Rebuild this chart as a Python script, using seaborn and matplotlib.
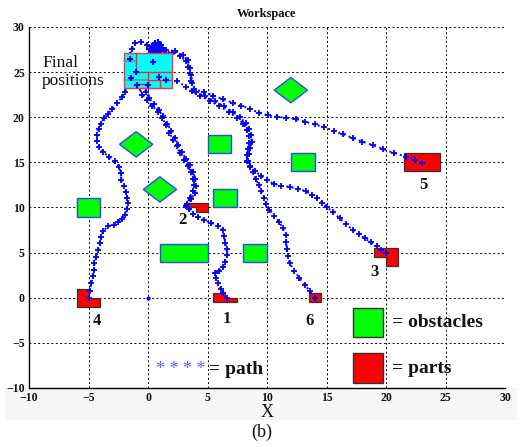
import matplotlib
matplotlib.use("Agg")
import matplotlib.pyplot as plt
from matplotlib.patches import Rectangle, Polygon
import seaborn as sns
import pandas as pd

# ---- data ----
# obstacles: squares/rects (x, y, w, h) and diamonds (cx, cy)
obst_rects = [(-6, 9, 2, 2), (5, 16, 2, 2), (5.5, 10, 2, 2), (12, 14, 2, 2), (8, 4, 2, 2), (1, 4, 4, 2)]
obst_diamonds = [(-1, 17), (1, 12), (12, 23)]
diamond_half = 1.4

# parts (red), polygons in workspace units
parts = {
    "1": [(5.5, -0.5), (7.5, -0.5), (7.5, 0), (6.5, 0), (6.5, 0.5), (5.5, 0.5)],
    "2": [(3, 10), (4, 10), (4, 9.5), (5, 9.5), (5, 10.5), (3, 10.5)],
    "3": [(19, 5.5), (21, 5.5), (21, 3.5), (20, 3.5), (20, 4.5), (19, 4.5)],
    "4": [(-6, -1), (-4, -1), (-4, 0), (-5, 0), (-5, 1), (-6, 1)],
    "5": [(21.5, 14), (24.5, 14), (24.5, 16), (21.5, 16)],
    "6": [(13.5, -0.5), (14.5, -0.5), (14.5, 0.5), (13.5, 0.5)],
}
part_labels = {"1": (6.6, -2.3), "2": (2.85, 8.6), "3": (19.0, 2.8),
               "4": (-4.3, -2.6), "5": (23.1, 12.5), "6": (13.6, -2.6)}

# final positions block and its inner edges
final_box = (-2, 23.2, 4, 3.9)
final_red_edges = [[(-1, -1), (25, 27)], [(-1, 2), (25, 25)], [(0, 0), (23.2, 25)],
                   [(1, 1), (23.2, 24.1)], [(0, 2), (24.1, 24.1)],
                   [(-1, 0), (23.65, 23.65)], [(-1, -1), (23.2, 23.65)]]
final_gray_edges = [[(-2, -1), (26.2, 26.2)], [(-2, 0), (24.1, 24.1)]]
final_x = [-1.5, 0.45, -1.05, -1.4, 0.9, 1.55, -0.95, 0.0]
final_y = [26.5, 26.1, 25.0, 24.3, 24.5, 24.1, 23.6, 23.6]

cluster_x = [0.2, 0.4, 0.6, 0.8, 1.0, 1.2, 0.5, 0.7, 0.9, 0.3, 1.1, 0.6, 0.85]
cluster_y = [27.6, 27.9, 28.1, 27.8, 28.0, 27.7, 27.3, 27.5, 27.3, 27.2, 27.4, 27.7, 28.2]

paths = {
    "p4": [(-5.0, 0.0), (-4.9, 0.8), (-4.76, 1.6), (-4.65, 2.4), (-4.55, 3.1), (-4.5, 3.8),
           (-4.35, 4.5), (-4.2, 5.3), (-4.06, 6.05), (-3.95, 6.7), (-3.8, 7.35), (-3.4, 7.9),
           (-2.9, 8.1), (-2.5, 8.4), (-2.2, 8.7), (-1.96, 9.2), (-1.8, 9.8), (-1.68, 10.5),
           (-1.75, 11.1), (-1.85, 11.7), (-2.05, 12.4), (-2.24, 13.1), (-2.3, 13.8), (-2.4, 14.5),
           (-2.8, 15.1), (-3.3, 15.6), (-3.8, 16.2), (-4.1, 16.7), (-4.25, 17.4), (-4.25, 18.0),
           (-4.15, 18.7), (-3.95, 19.3), (-3.7, 19.9), (-3.35, 20.4), (-3.0, 20.9), (-2.6, 21.6),
           (-2.2, 22.2), (-1.9, 22.8), (-1.8, 23.6), (-1.8, 24.6), (-1.8, 25.4), (-1.7, 26.2),
           (-1.55, 26.9), (-1.35, 27.6), (-1.1, 28.2), (-0.6, 28.3), (-0.1, 28.0), (0.3, 27.8), (0.7, 27.6)],
    "p1": [(6.6, 0.0), (6.3, 0.5), (6.1, 1.0), (5.9, 1.6), (5.7, 2.2), (5.6, 2.7), (6.0, 3.0),
           (6.3, 3.4), (6.5, 4.0), (6.6, 4.7), (6.6, 5.4), (6.5, 6.1), (6.4, 6.8), (6.3, 7.5),
           (5.9, 8.0), (5.3, 8.3), (4.7, 8.6), (4.2, 8.9), (3.8, 9.3), (3.4, 9.8), (3.3, 10.4),
           (3.5, 11.1), (3.75, 11.8), (3.85, 12.5), (3.75, 13.2), (3.6, 13.9), (3.35, 14.6),
           (3.0, 15.3), (2.7, 16.0), (2.4, 16.8), (2.1, 17.5), (1.8, 18.3), (1.5, 19.1),
           (1.2, 19.9), (0.8, 20.6), (0.35, 21.3), (-0.1, 21.9), (-0.5, 22.5), (-0.7, 23.2),
           (-0.5, 24.5), (-0.2, 25.6), (0.1, 26.6), (0.5, 27.4)],
    "p2": [(3.2, 10.2), (3.6, 10.9), (3.95, 11.6), (4.05, 12.4), (3.95, 13.2), (3.8, 13.9),
           (3.55, 14.7), (3.2, 15.4), (2.85, 16.1), (2.55, 16.9), (2.25, 17.7), (1.95, 18.5),
           (1.6, 19.3), (1.25, 20.1), (0.9, 20.8), (0.5, 21.5), (0.1, 22.1), (-0.2, 22.8),
           (-0.3, 23.5), (0.0, 24.8), (0.3, 26.0), (0.6, 27.2)],
    "p5": [(23.0, 14.9), (22.4, 15.3), (21.7, 15.65), (20.7, 16.0), (19.75, 16.5), (18.9, 16.9),
           (18.0, 17.3), (17.2, 17.7), (16.4, 18.1), (15.6, 18.5), (14.8, 18.9), (14.0, 19.2),
           (13.2, 19.5), (12.4, 19.8), (11.6, 19.95), (10.8, 20.05), (10.1, 20.2), (9.3, 20.5),
           (8.6, 20.9), (7.85, 21.3), (7.1, 21.6), (6.3, 22.0), (5.5, 22.4), (4.7, 22.8),
           (3.9, 23.1), (3.6, 24.0), (3.5, 24.9), (3.35, 25.6), (3.2, 26.2), (2.7, 26.8),
           (2.0, 27.1), (1.3, 27.4), (0.8, 27.6)],
    "p3": [(20.0, 4.95), (19.6, 5.3), (19.2, 5.7), (18.7, 6.15), (18.2, 6.6), (17.7, 7.05),
           (17.2, 7.5), (16.65, 8.15), (16.1, 8.8), (15.55, 9.45), (15.0, 10.1), (14.6, 10.55),
           (14.2, 11.0), (13.75, 11.4), (13.3, 11.8), (12.6, 12.05), (11.9, 12.3), (11.2, 12.4),
           (10.6, 12.6), (10.0, 13.0), (9.5, 13.5), (9.0, 14.0), (8.6, 14.6), (8.4, 15.2),
           (8.5, 15.9), (8.6, 16.6), (8.7, 17.3), (8.65, 18.0), (8.5, 18.7), (8.2, 19.4),
           (7.7, 20.0), (7.1, 20.6), (6.4, 21.2), (5.6, 21.8), (4.8, 22.3), (4.0, 22.8),
           (3.2, 23.4), (2.4, 24.0)],
    "p6": [(14.0, 0.0), (13.6, 0.7), (13.2, 1.4), (12.7, 2.2), (12.3, 3.0), (11.9, 3.8),
           (11.75, 4.6), (11.65, 5.4), (11.6, 6.2), (11.55, 7.0), (11.35, 7.7), (11.0, 8.4),
           (10.6, 9.1), (10.2, 9.75), (9.95, 10.4), (9.75, 11.1), (9.5, 11.8), (9.3, 12.5),
           (9.05, 13.2), (8.8, 13.9), (8.6, 14.5), (8.3, 15.1), (8.3, 15.8), (8.4, 16.5),
           (8.5, 17.2), (8.45, 17.9), (8.3, 18.6), (8.0, 19.3), (7.5, 19.9), (6.8, 20.6),
           (6.0, 21.2), (5.2, 21.8), (4.4, 22.4), (3.7, 22.9), (3.7, 23.8), (3.65, 24.7),
           (3.55, 25.5), (3.35, 26.3), (2.95, 26.9), (2.3, 27.3), (1.5, 27.5)],
}

ticks = [-10, -5, 0, 5, 10, 15, 20, 25, 30]

rows = []
for name, pts in paths.items():
    for i, (px, py) in enumerate(pts):
        rows.append({"path": name, "i": i, "x": px, "y": py})
df = pd.DataFrame(rows)

sns.set_theme(style="white")
plt.rcParams['font.family'] = ['Liberation Serif', 'DejaVu Serif']

fig = plt.figure(figsize=(5.22, 4.47), dpi=100)
fig.patch.set_facecolor('white')
# faint grey band under the axes (figure background of the original)
fig.patches.append(Rectangle((0.0096, 0.060), 0.981, 0.072, transform=fig.transFigure,
                             facecolor='#f6f6f6', edgecolor='none', zorder=-10))
ax = fig.add_axes([0.0556, 0.132, 0.912, 0.8076])
ax.set_facecolor('white')

blue = '#0000ff'

# dotted grid at every tick
for t in ticks:
    ax.axvline(t, color='black', linestyle=(0, (2, 2.5)), linewidth=0.7, zorder=0.5)
    ax.axhline(t, color='black', linestyle=(0, (2, 2.5)), linewidth=0.7, zorder=0.5)

# obstacles
for (x0, y0, w, h) in obst_rects:
    ax.add_patch(Rectangle((x0, y0), w, h, facecolor='#00ff00', edgecolor='#3344ff', lw=1.0, zorder=1.5))
for (cx, cy) in obst_diamonds:
    d = diamond_half
    ax.add_patch(Polygon([(cx - d, cy), (cx, cy + d), (cx + d, cy), (cx, cy - d)],
                         closed=True, facecolor='#00ff00', edgecolor='#3344ff', lw=1.0, zorder=1.5))

# parts
for key, poly in parts.items():
    ax.add_patch(Polygon(poly, closed=True, facecolor='#ff0000', edgecolor='#333333', lw=0.9, zorder=1.5))
    lx, ly = part_labels[key]
    ax.text(lx, ly, key, ha='center', va='center', fontsize=12, fontweight='bold', color='#111111', zorder=5)

# paths
sns.lineplot(data=df, x='x', y='y', units='path', estimator=None, sort=False, color=blue,
             lw=1.4, linestyle=(0, (1, 1.8)), marker='+', markersize=4.5, markeredgewidth=1.3,
             markeredgecolor=blue, legend=False, ax=ax, zorder=2)
sns.scatterplot(x=cluster_x, y=cluster_y, marker='+', s=30, linewidth=1.6, color=blue, ax=ax, zorder=2.5)
ax.plot([0], [0], marker='.', color=blue, markersize=4, zorder=2.5)

# final positions block
fx, fy, fw, fh = final_box
ax.add_patch(Rectangle((fx, fy), fw, fh, facecolor='#00ffff', edgecolor='#ff3333', lw=1.0, zorder=3))
for xs, ys in final_gray_edges:
    ax.plot(xs, ys, color='#888888', lw=1.2, zorder=3.1)
for xs, ys in final_red_edges:
    ax.plot(xs, ys, color='#ff2222', lw=1.0, zorder=3.2)
sns.scatterplot(x=final_x, y=final_y, marker='+', s=25, linewidth=1.5, color=blue, ax=ax, zorder=4)
ax.text(-8.9, 25.0, "Final\npositions", ha='left', va='center', fontsize=12.5,
        linespacing=1.15, color='#111111', zorder=5)

# legend-like annotations
ax.add_patch(Rectangle((17.2, -4.4), 2.5, 3.3, facecolor='#00ff00', edgecolor='#333333', lw=1.0, zorder=3))
ax.add_patch(Rectangle((17.2, -9.45), 2.5, 3.3, facecolor='#ff0000', edgecolor='#333333', lw=1.0, zorder=3))
ax.text(20.5, -2.75, "= obstacles", ha='left', va='center', fontsize=14, fontweight='bold', color='#111111')
ax.text(20.5, -7.8, "= parts", ha='left', va='center', fontsize=14, fontweight='bold', color='#111111')
ax.text(0.7, -7.9, "* * * *", ha='left', va='center', fontsize=13, color='#5a5aff')
ax.text(5.1, -7.9, "= path", ha='left', va='center', fontsize=14, fontweight='bold', color='#111111')

ax.set_xlim(-10, 30)
ax.set_ylim(-10, 30)
ax.set_xticks(ticks)
ax.set_yticks(ticks)
for s in ['top', 'right']:
    ax.spines[s].set_visible(False)
for s in ['left', 'bottom']:
    ax.spines[s].set_color('black')
    ax.spines[s].set_linewidth(1.0)
    ax.spines[s].set_zorder(6)
ax.tick_params(length=0, pad=3, labelsize=8.5, colors='#111111')
for lab in ax.get_xticklabels() + ax.get_yticklabels():
    lab.set_fontweight('bold')

ax.set_title("Workspace", fontsize=9, fontweight='bold', pad=7, color='#111111')
ax.set_xlabel("X", fontsize=13, labelpad=0, color='#111111')
ax.set_ylabel("")
fig.text(262 / 522, 1 - 432 / 447, "(b)", ha='center', va='center', fontsize=13, color='#111111')

fig.savefig("out.png", dpi=100)
